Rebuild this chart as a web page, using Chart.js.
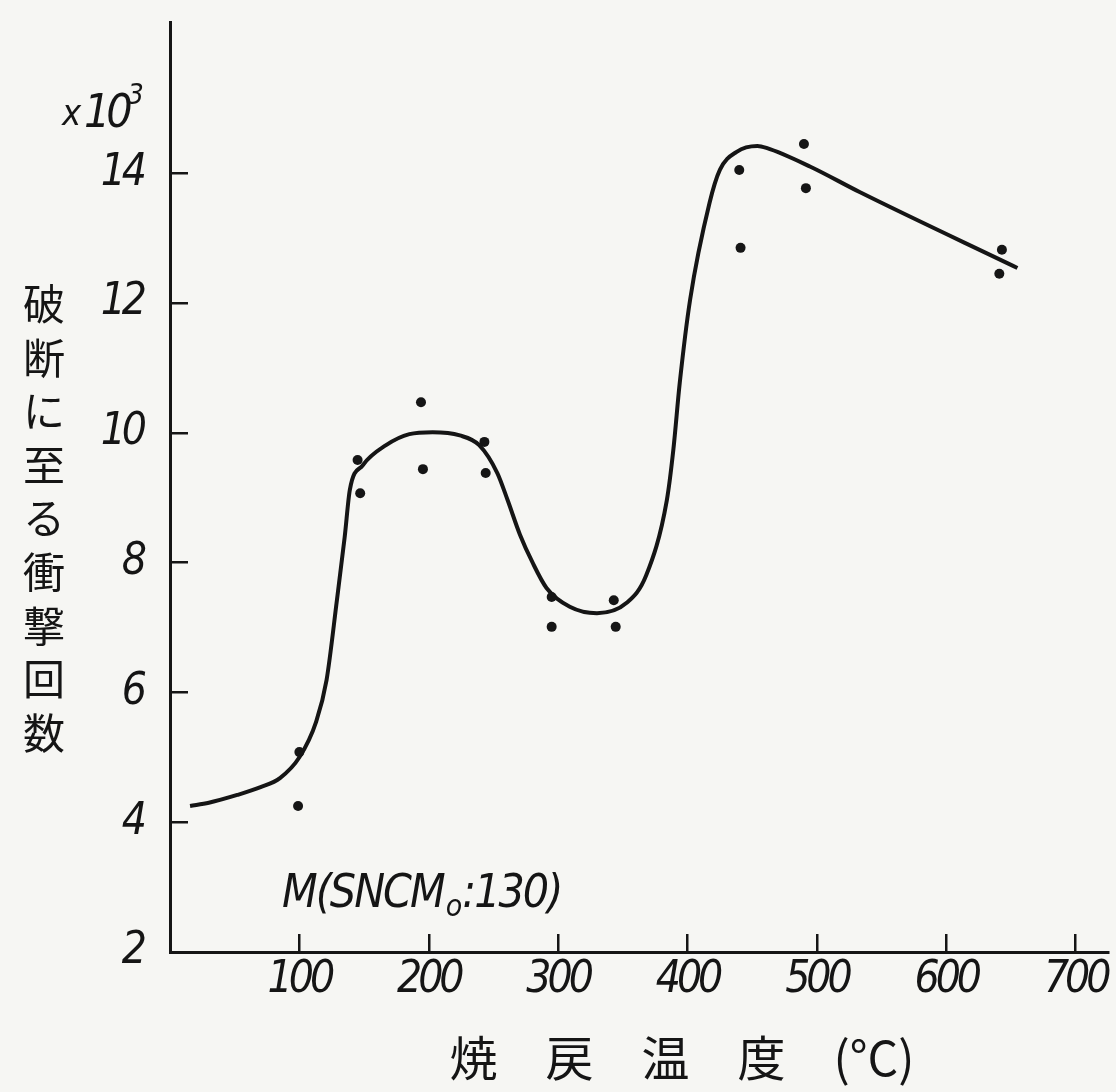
<!DOCTYPE html>
<html>
<head>
<meta charset="utf-8">
<script src="https://cdn.jsdelivr.net/npm/chart.js@4.4.1/dist/chart.umd.min.js"></script>
<style>
  html, body { margin: 0; padding: 0; background: #f6f6f3; }
  #wrap { width: 1116px; height: 1092px; position: relative; }
</style>
</head>
<body>
<div id="wrap"><canvas id="c"></canvas></div>
<script>
// ---- data ----
const xTicks = [100, 200, 300, 400, 500, 600, 700];
const yTicks = [2, 4, 6, 8, 10, 12, 14];

// measured points (tempering temperature °C, impacts to fracture ×10^3)
const pointTemps  = [99, 100, 145, 147, 194, 195.5, 243, 244, 295, 295, 343, 344.5, 440, 441, 490, 491.5, 643, 641];
const pointCounts = [4.25, 5.08, 9.58, 9.07, 10.47, 9.44, 9.86, 9.38, 7.47, 7.01, 7.42, 7.01, 14.05, 12.85, 14.45, 13.77, 12.82, 12.45];

// hand-drawn fitted curve
const curveTemps  = [15.5, 30, 52, 70, 85, 100, 113, 121, 129, 135, 139, 149, 167, 185, 203, 224, 239, 253, 261, 270.5, 280, 291, 309, 330, 353, 368, 384, 389, 394, 402, 417, 425, 438, 454, 461, 495, 533, 655];
const curveCounts = [4.25, 4.3, 4.42, 4.54, 4.68, 5.0, 5.55, 6.19, 7.42, 8.39, 9.12, 9.5, 9.81, 9.98, 10.01, 9.96, 9.81, 9.38, 8.96, 8.43, 8.01, 7.61, 7.32, 7.22, 7.38, 7.8, 8.96, 9.73, 10.77, 12.05, 13.54, 14.05, 14.33, 14.42, 14.39, 14.1, 13.71, 12.54];

const yAxisTitle = ['破', '断', 'に', '至', 'る', '衝', '撃', '回', '数'];
const xAxisTitle = '焼　戻　温　度　(°C)';
const specimenLabel = ['M(SNCM', 'o', ':130)'];
const unitLabel = ['x', '10', '3'];

// ---- chart ----
const TICK_FONT = '"Liberation Sans Narrow", "DejaVu Sans Condensed", "Liberation Sans", sans-serif';
const CJK_FONT = '"Noto Sans CJK JP", "Noto Sans CJK SC", sans-serif';
const INK = '#151515';
const NARROW = '-4px';

const condensePlugin = {
  id: 'condense',
  beforeDraw(chart) { chart.ctx.letterSpacing = NARROW; }
};

const textPlugin = {
  id: 'extraText',
  afterDraw(chart) {
    const ctx = chart.ctx;
    ctx.save();
    ctx.fillStyle = INK;
    ctx.letterSpacing = '0px';
    // vertical y-axis title
    ctx.font = '400 42px ' + CJK_FONT;
    ctx.textAlign = 'center';
    ctx.textBaseline = 'middle';
    yAxisTitle.forEach((ch, i) => {
      ctx.fillText(ch, 44, 304 + i * 53.6);
    });
    // x-axis title
    ctx.font = '400 48px ' + CJK_FONT;
    ctx.textAlign = 'center';
    ctx.fillText(xAxisTitle, 682, 1058);

    // unit label  x10^3
    ctx.letterSpacing = NARROW;
    ctx.textAlign = 'left';
    ctx.textBaseline = 'alphabetic';
    ctx.font = 'italic 36px ' + TICK_FONT;
    ctx.fillText(unitLabel[0], 62, 125);
    ctx.font = 'italic 46px ' + TICK_FONT;
    ctx.fillText(unitLabel[1], 84, 127);
    let ux = 84 + ctx.measureText(unitLabel[1]).width;
    ctx.font = 'italic 28px ' + TICK_FONT;
    ctx.fillText(unitLabel[2], ux - 1, 104);

    // specimen label M(SNCMo:130)
    let x = 282;
    ctx.letterSpacing = '-2px';
    ctx.font = 'italic 46px ' + TICK_FONT;
    ctx.fillText(specimenLabel[0], x, 907);
    x += ctx.measureText(specimenLabel[0]).width + 2;
    ctx.font = 'italic 30px ' + TICK_FONT;
    ctx.fillText(specimenLabel[1], x, 916);
    x += ctx.measureText(specimenLabel[1]).width + 2;
    ctx.font = 'italic 46px ' + TICK_FONT;
    ctx.fillText(specimenLabel[2], x, 907);
    ctx.restore();
  }
};

new Chart(document.getElementById('c'), {
  type: 'scatter',
  data: {
    datasets: [
      {
        label: 'curve',
        data: curveTemps.map((t, i) => ({ x: t, y: curveCounts[i] })),
        showLine: true,
        borderColor: INK,
        borderWidth: 4,
        pointRadius: 0,
        cubicInterpolationMode: 'monotone',
        fill: false
      },
      {
        label: 'measured',
        data: pointTemps.map((t, i) => ({ x: t, y: pointCounts[i] })),
        showLine: false,
        pointRadius: 5,
        pointBackgroundColor: INK,
        pointBorderWidth: 0
      }
    ]
  },
  plugins: [condensePlugin, textPlugin],
  options: {
    responsive: true,
    maintainAspectRatio: false,
    animation: false,
    layout: { padding: { top: 22, right: 8, left: 0, bottom: 0 } },
    plugins: { legend: { display: false }, tooltip: { enabled: false } },
    scales: {
      x: {
        type: 'linear',
        min: 0,
        max: 725,
        afterBuildTicks: s => { s.ticks = xTicks.map(v => ({ value: v })); },
        afterFit: s => { s.height = 140; s.paddingLeft = 0; s.paddingRight = 0; },
        border: { display: true, color: INK, width: 3 },
        grid: { drawOnChartArea: false, drawTicks: true, tickLength: -18, color: INK, lineWidth: 2.5 },
        ticks: { color: INK, padding: 20, font: { family: TICK_FONT, size: 44, style: 'italic' }, maxRotation: 0, autoSkip: false }
      },
      y: {
        type: 'linear',
        min: 2,
        max: 16.33,
        afterBuildTicks: s => { s.ticks = yTicks.map(v => ({ value: v })); },
        afterFit: s => { s.width = 170; s.paddingTop = 0; s.paddingBottom = 0; },
        border: { display: true, color: INK, width: 3 },
        grid: { drawOnChartArea: false, drawTicks: true, tickLength: -18, color: INK, lineWidth: 2.5 },
        ticks: { color: INK, padding: 45, font: { family: TICK_FONT, size: 44, style: 'italic' }, autoSkip: false }
      }
    }
  }
});
</script>
</body>
</html>
